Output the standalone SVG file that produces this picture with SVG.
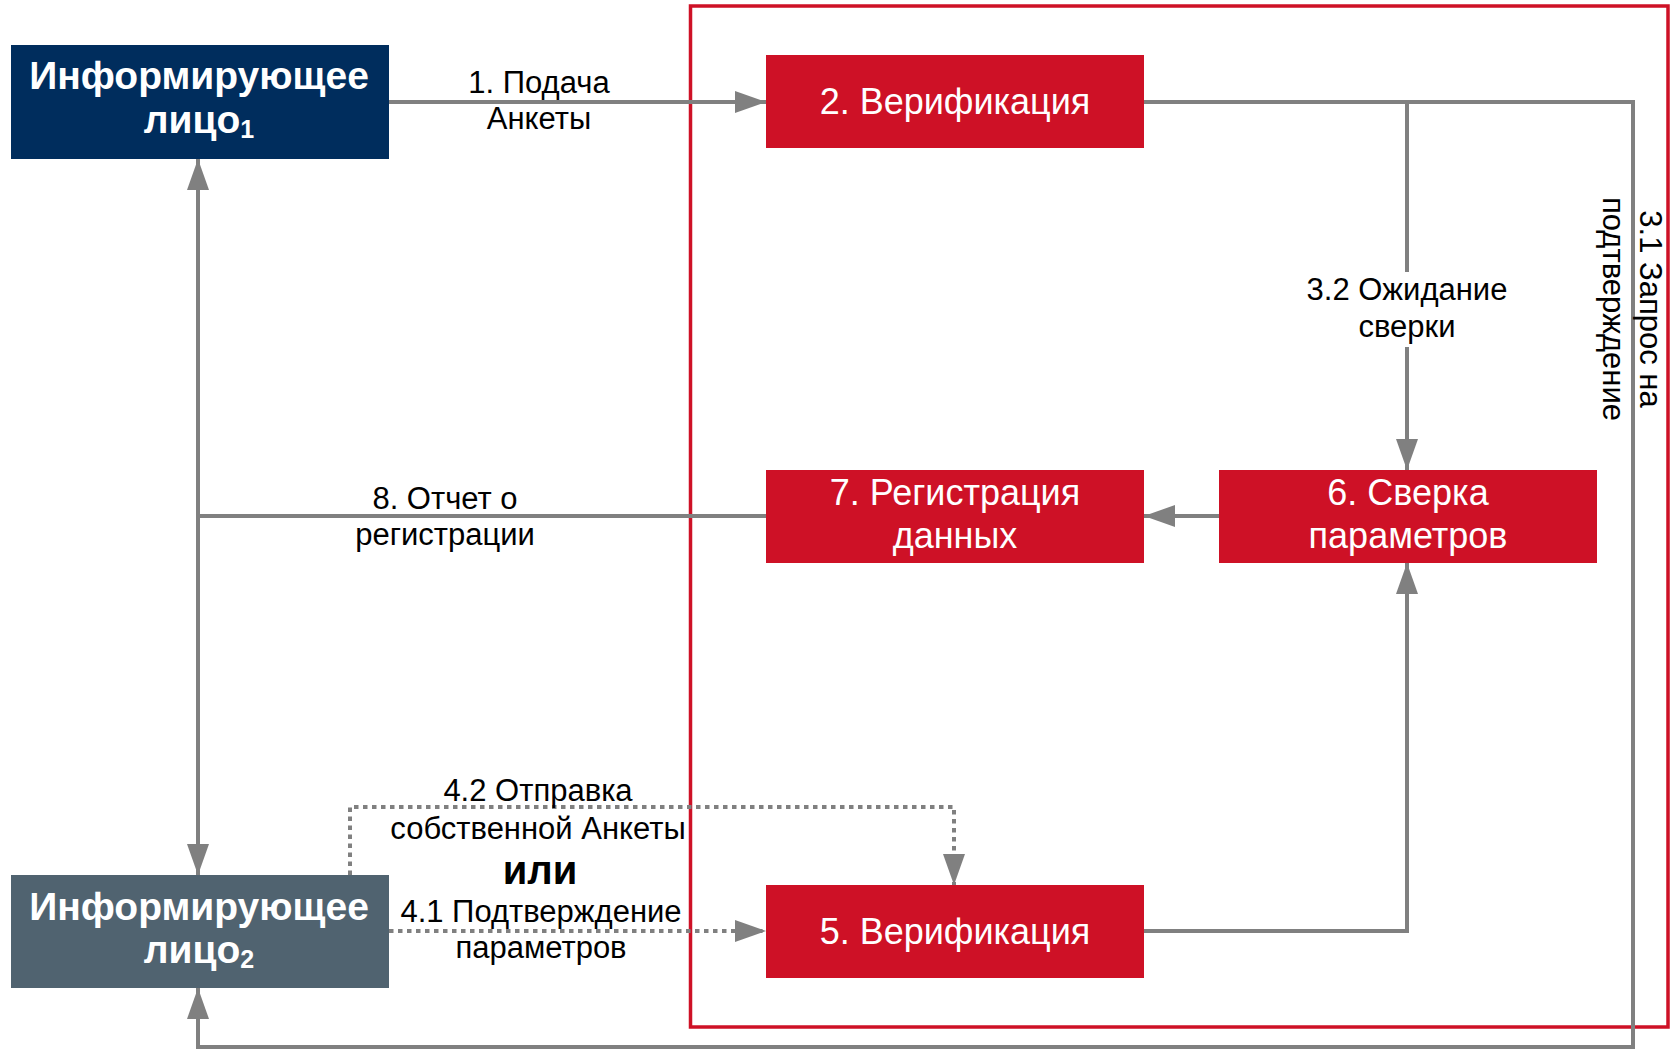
<svg xmlns="http://www.w3.org/2000/svg" width="1670" height="1049" viewBox="0 0 1670 1049">
<defs>
<style>
.bg{fill:#ffffff}
.frame{fill:none;stroke:#CE1126;stroke-width:3.5}
.navy{fill:#002D5D}
.slate{fill:#506370}
.red{fill:#CE1126}
.ttl{font-family:"Liberation Sans",Arial,sans-serif;font-weight:bold;font-size:39px;fill:#ffffff;text-anchor:middle}
.box{font-family:"Liberation Sans",Arial,sans-serif;font-size:36px;fill:#ffffff;text-anchor:middle}
.lbl{font-family:"Liberation Sans",Arial,sans-serif;font-size:31px;fill:#000000;text-anchor:middle}
.bold{font-weight:bold;font-size:40px}
.ln{fill:none;stroke:#808080;stroke-width:4}
.arr{marker-end:url(#ah)}
.dot{stroke-dasharray:4.5 4.5}
</style>
<marker id="ah" markerUnits="userSpaceOnUse" markerWidth="32" markerHeight="22" refX="31" refY="11" orient="auto">
<path d="M0,0 L31,11 L0,22 Z" fill="#808080"/>
</marker>
</defs>
<rect class="bg" x="0" y="0" width="1670" height="1049"/>
<rect class="frame" x="690.5" y="6" width="977.5" height="1021"/>

<g id="connectors">
<path class="ln arr" d="M389,102 H766"/>
<path class="ln arr" d="M1144,102 H1633 V1047 H198 V988"/>
<path class="ln arr" d="M1407,102 V470"/>
<path class="ln arr" d="M1219,516 H1144"/>
<path class="ln" d="M766,516 H198"/>
<path class="ln arr" d="M198,516 V159"/>
<path class="ln arr" d="M198,516 V875"/>
<path class="ln arr" d="M1144,931 H1407 V563"/>
<path class="ln dot arr" d="M389,931 H766"/>
<path class="ln dot arr" d="M350,875 V807 H954 V885"/>
<rect class="bg" x="1300" y="272" width="215" height="75"/>
<text class="lbl" x="539" y="93">1. Подача</text>
<text class="lbl" x="539" y="129">Анкеты</text>
<text class="lbl" x="1407" y="300">3.2 Ожидание</text>
<text class="lbl" x="1407" y="337">сверки</text>
<g transform="translate(1640,309) rotate(90)">
<text class="lbl" x="0" y="0">3.1 Запрос на</text>
<text class="lbl" x="0" y="37">подтверждение</text>
</g>
<text class="lbl" x="445" y="509">8. Отчет о</text>
<text class="lbl" x="445" y="545">регистрации</text>
<text class="lbl" x="538" y="801">4.2 Отправка</text>
<text class="lbl" x="538" y="839">собственной Анкеты</text>
<text class="lbl bold" x="540" y="884">или</text>
<text class="lbl" x="541" y="922">4.1 Подтверждение</text>
<text class="lbl" x="541" y="958">параметров</text>
</g>

<g id="node-person1">
<rect class="navy" x="11" y="45" width="378" height="114"/>
<text class="ttl" x="199" y="89">Информирующее</text>
<text class="ttl" x="199" y="133">лицо<tspan font-size="25" dy="5">1</tspan></text>
</g>
<g id="node-person2">
<rect class="slate" x="11" y="875" width="378" height="113"/>
<text class="ttl" x="199" y="920">Информирующее</text>
<text class="ttl" x="199" y="963">лицо<tspan font-size="25" dy="5">2</tspan></text>
</g>
<g id="node-verify2">
<rect class="red" x="766" y="55" width="378" height="93"/>
<text class="box" x="955" y="114">2. Верификация</text>
</g>
<g id="node-register7">
<rect class="red" x="766" y="470" width="378" height="93"/>
<text class="box" x="955" y="505">7. Регистрация</text>
<text class="box" x="955" y="548">данных</text>
</g>
<g id="node-compare6">
<rect class="red" x="1219" y="470" width="378" height="93"/>
<text class="box" x="1408" y="505">6. Сверка</text>
<text class="box" x="1408" y="548">параметров</text>
</g>
<g id="node-verify5">
<rect class="red" x="766" y="885" width="378" height="93"/>
<text class="box" x="955" y="944">5. Верификация</text>
</g>
</svg>
